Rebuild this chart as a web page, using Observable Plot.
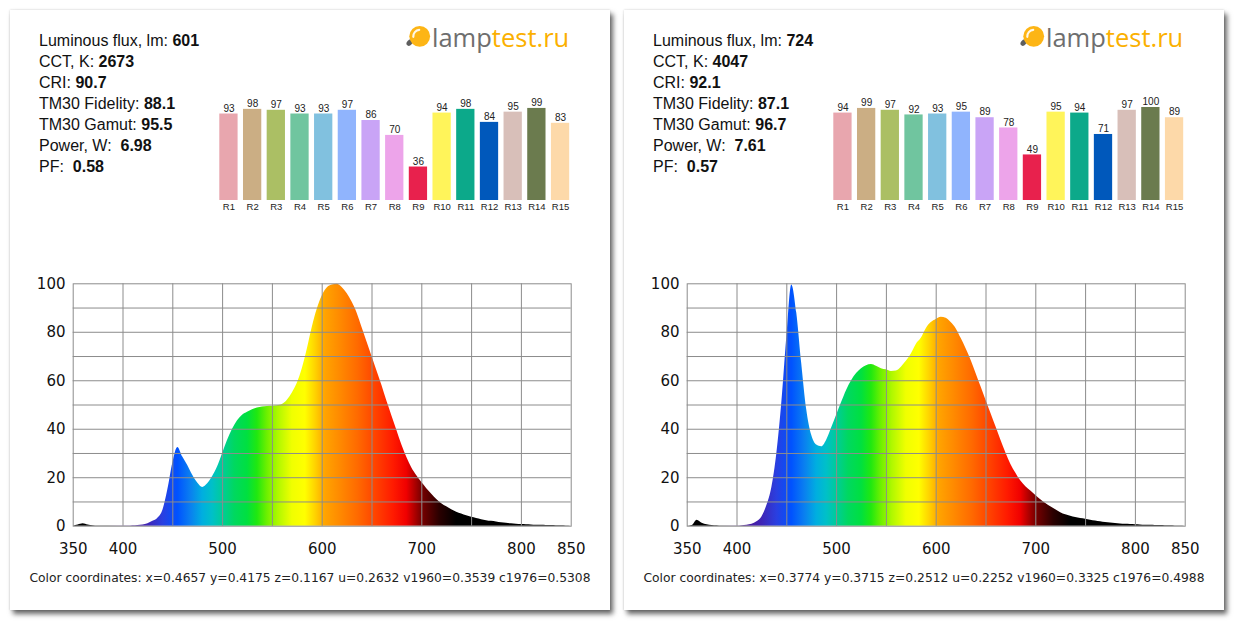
<!DOCTYPE html>
<html><head><meta charset="utf-8">
<script src="https://cdn.jsdelivr.net/npm/d3@7"></script>
<script src="https://cdn.jsdelivr.net/npm/@observablehq/plot@0.6"></script>
<style>
html,body{margin:0;padding:0;background:#fff;}
body{width:1235px;height:621px;position:relative;overflow:hidden;}
.panel{position:absolute;top:10px;width:600px;height:600px;background:#fff;box-shadow:3px 4px 5px rgba(0,0,0,0.6),0 0 2px rgba(0,0,0,0.18);}
.stats{position:absolute;left:29px;top:21.3px;font-family:"Liberation Sans",Arial,sans-serif;font-size:16px;line-height:20.9px;color:#111;white-space:pre;}
.logo-icon{position:absolute;left:385px;top:2px;overflow:visible;}
.logo-text{position:absolute;left:422px;top:11.8px;font-family:"Open Sans",sans-serif;font-size:25.5px;line-height:30px;white-space:pre;}
.logo-text .a{color:#6e6e6e;}
.logo-text .b{color:#fbb000;}
.coords{position:absolute;left:0;width:600px;top:561px;text-align:center;font-family:"DejaVu Sans",sans-serif;font-size:12.3px;line-height:14px;color:#222;white-space:pre;}
.chart{position:absolute;left:0;}
</style>
</head><body>
<script>
// ---------- data ----------
const statLabels = ["Luminous flux, lm: ", "CCT, K: ", "CRI: ", "TM30 Fidelity: ", "TM30 Gamut: ", "Power, W:  ", "PF:  "];
const statsWarm = ["601", "2673", "90.7", "88.1", "95.5", "6.98", "0.58"];
const statsNeutral = ["724", "4047", "92.1", "87.1", "96.7", "7.61", "0.57"];

const rNames = ["R1","R2","R3","R4","R5","R6","R7","R8","R9","R10","R11","R12","R13","R14","R15"];
const rWarm = [93, 98, 97, 93, 93, 97, 86, 70, 36, 94, 98, 84, 95, 99, 83];
const rNeutral = [94, 99, 97, 92, 93, 95, 89, 78, 49, 95, 94, 71, 97, 100, 89];
const rColors = ["#e8a6ae","#cbae84","#abbf64","#70c59f","#81c1df","#90b4fd","#c9a4f6","#eda4ea","#e8214d","#fff45a","#0ca98a","#0058bb","#d8bfb9","#6b7b4e","#fdd9a9"];

const wavelengths = [350,355,360,365,370,375,380,385,390,395,400,405,410,415,420,425,430,435,440,445,450,455,460,465,470,475,480,485,490,495,500,505,510,515,520,525,530,535,540,545,550,555,560,565,570,575,580,585,590,595,600,605,610,615,620,625,630,635,640,645,650,655,660,665,670,675,680,685,690,695,700,705,710,715,720,725,730,735,740,745,750,755,760,765,770,775,780,785,790,795,800,805,810,815,820,825,830,835,840,845,850];
const spectrumWarm = [0,0.5,1.0,0.5,0.2,0.1,0.1,0.1,0.1,0.1,0.1,0.1,0.2,0.3,0.5,1.0,2.0,3.3,6.5,15,26,32.5,28.5,25,21,17.8,16,17.5,20.5,24.5,30,35.5,40,43.5,45.8,47,48,48.8,49.2,49.4,49.5,49.7,50.2,52,55,59,65,73,82,89.5,95,98.3,99.5,99.8,98.5,96,92.5,88,82,76,70,64,58,51.5,45.5,39.5,33.5,28.3,24,20.8,18,15.5,13.2,11,9.3,8,6.8,5.8,5,4.3,3.7,3.2,2.7,2.3,2,1.7,1.4,1.2,1.0,0.8,0.7,0.6,0.5,0.4,0.35,0.3,0.25,0.2,0.15,0.1,0];
const spectrumNeutral = [0,0.3,2.5,1.2,0.6,0.3,0.2,0.1,0.1,0.1,0.1,0.2,0.4,0.8,1.8,3.8,8.5,16,30,51,78,99.5,88,67,48,37.5,33.5,32.8,35.5,40.5,45.8,51,56,60,63,65,66.2,66.7,66,65,64.5,63.8,64,65.6,68,71,75,77.5,81.5,84,85.3,86.2,85.8,84,81.5,77.5,73.2,68.5,63,57.5,52,46.5,41,35.5,30.2,25.5,21.8,18.6,16.3,14.5,12.7,10.9,9.4,8,6.8,5.6,4.7,4.1,3.6,3.2,2.9,2.5,2.1,1.8,1.5,1.3,1.1,0.9,0.8,0.7,0.6,0.5,0.4,0.35,0.3,0.25,0.2,0.15,0.1,0.05,0];

const xTickLabels = [350, 400, 500, 600, 700, 800, 850];
const yTickLabels = [0, 20, 40, 60, 80, 100];
const xGridLines = [400, 450, 500, 550, 600, 650, 700, 750, 800];
const yGridLines = [10, 20, 30, 40, 50, 60, 70, 80, 90];

const spectralStops = [350, 385, 395, 410, 425, 440, 455, 468, 480, 490, 500, 512, 525, 535, 545, 556, 570, 583, 593, 603, 618, 636, 655, 672, 685, 700, 718, 735, 850];
const spectralColors = ["#000000","#000000","#301050","#4a1a9a","#3f25b5","#2a3fe0","#0052ff","#0a7ff0","#00aee0","#00c0c8","#00cc9a","#00d860","#00e040","#20e810","#6ef000","#b0f800","#f0ff00","#ffff00","#ffd400","#ffa400","#ff8a00","#ff6a00","#ff4000","#ff1a00","#f00000","#7a0000","#2a0000","#000000","#000000"];

const coordsWarm = "Color coordinates: x=0.4657 y=0.4175 z=0.1167 u=0.2632 v1960=0.3539 c1976=0.5308";
const coordsNeutral = "Color coordinates: x=0.3774 y=0.3715 z=0.2512 u=0.2252 v1960=0.3325 c1976=0.4988";

// ---------- drawing ----------
function barChart(values) {
  const data = rNames.map((n, i) => ({n, v: values[i], c: rColors[i]}));
  return Plot.plot({
    width: 600, height: 215,
    marginLeft: 203.9, marginRight: 35.4, marginTop: 97, marginBottom: 25,
    style: {fontFamily: "Liberation Sans, Arial, sans-serif", fontSize: "9.5px", color: "#222", background: "transparent", overflow: "visible"},
    x: {domain: rNames, padding: 0.228, round: false, tickSize: 0, tickPadding: 2.5, label: null},
    y: {domain: [0, 100], axis: null},
    color: {type: "identity"},
    marks: [
      Plot.barY(data, {x: "n", y: "v", fill: "c"}),
      Plot.text(data, {x: "n", y: "v", text: d => String(d.v), dy: -5.5, fontSize: 10, fill: "#222"})
    ]
  });
}

function spectrumChart(values, gradId) {
  const data = wavelengths.map((w, i) => ({w, v: values[i]}));
  const plot = Plot.plot({
    width: 600, height: 320,
    marginLeft: 62.7, marginRight: 39.3, marginTop: 23.3, marginBottom: 54.3,
    style: {fontFamily: "DejaVu Sans, sans-serif", fontSize: "15px", color: "#111", background: "transparent", overflow: "visible"},
    x: {domain: [350, 850], ticks: xTickLabels, tickSize: 0, tickPadding: 17, tickFormat: d => String(d), label: null},
    y: {domain: [0, 100], ticks: yTickLabels, tickSize: 0, tickPadding: 7.7, tickFormat: d => String(d), label: null},
    marks: [
      Plot.areaY(data, {x: "w", y: "v", curve: "monotone-x", fill: `url(#${gradId})`}),
      Plot.ruleX(xGridLines, {stroke: "#8c8c8c"}),
      Plot.ruleY(yGridLines, {stroke: "#8c8c8c"}),
      Plot.frame({stroke: "#8c8c8c"})
    ]
  });
  const svg = plot.tagName.toLowerCase() === "svg" ? plot : plot.querySelector("svg");
  const xs = plot.scale("x");
  const defs = d3.select(svg).insert("defs", ":first-child");
  const grad = defs.append("linearGradient").attr("id", gradId)
    .attr("gradientUnits", "userSpaceOnUse")
    .attr("x1", xs.apply(350)).attr("x2", xs.apply(850)).attr("y1", 0).attr("y2", 0);
  spectralStops.forEach((w, i) => grad.append("stop").attr("offset", (w - 350) / 500).attr("stop-color", spectralColors[i]));
  return plot;
}

function makePanel(left, stats, ri, spectrum, coords, gradId) {
  const p = document.createElement("div");
  p.className = "panel";
  p.style.left = left + "px";
  document.body.appendChild(p);

  const st = document.createElement("div");
  st.className = "stats";
  st.innerHTML = statLabels.map((l, i) => `${l}<b>${stats[i]}</b>`).join("\n");
  p.appendChild(st);

  const icon = document.createElementNS("http://www.w3.org/2000/svg", "svg");
  icon.setAttribute("width", 40); icon.setAttribute("height", 40);
  icon.setAttribute("class", "logo-icon");
  icon.innerHTML = `<ellipse cx="14.6" cy="30.6" rx="2.6" ry="3.6" transform="rotate(40 14.6 30.6)" fill="#5e5e5e"/>
    <circle cx="24.7" cy="24.3" r="10.4" fill="#fdb515"/>
    <path d="M18.3,24.8 A6.5,6.5 0 0 1 24.2,17.9" stroke="#fff" stroke-width="2.2" fill="none" stroke-linecap="round" opacity="0.9"/>`;
  p.appendChild(icon);

  const lt = document.createElement("div");
  lt.className = "logo-text";
  lt.innerHTML = `<span class="a">lamp</span><span class="b">test.ru</span>`;
  p.appendChild(lt);

  const bars = barChart(ri);
  bars.classList.add("chart");
  bars.style.top = "0px";
  bars.style.position = "absolute";
  p.appendChild(bars);

  const spec = spectrumChart(spectrum, gradId);
  spec.classList.add("chart");
  spec.style.position = "absolute";
  spec.style.top = "250px";
  p.appendChild(spec);

  const cc = document.createElement("div");
  cc.className = "coords";
  cc.textContent = coords;
  p.appendChild(cc);
}

makePanel(10, statsWarm, rWarm, spectrumWarm, coordsWarm, "gradWarm");
makePanel(624, statsNeutral, rNeutral, spectrumNeutral, coordsNeutral, "gradNeutral");
</script>
</body></html>
